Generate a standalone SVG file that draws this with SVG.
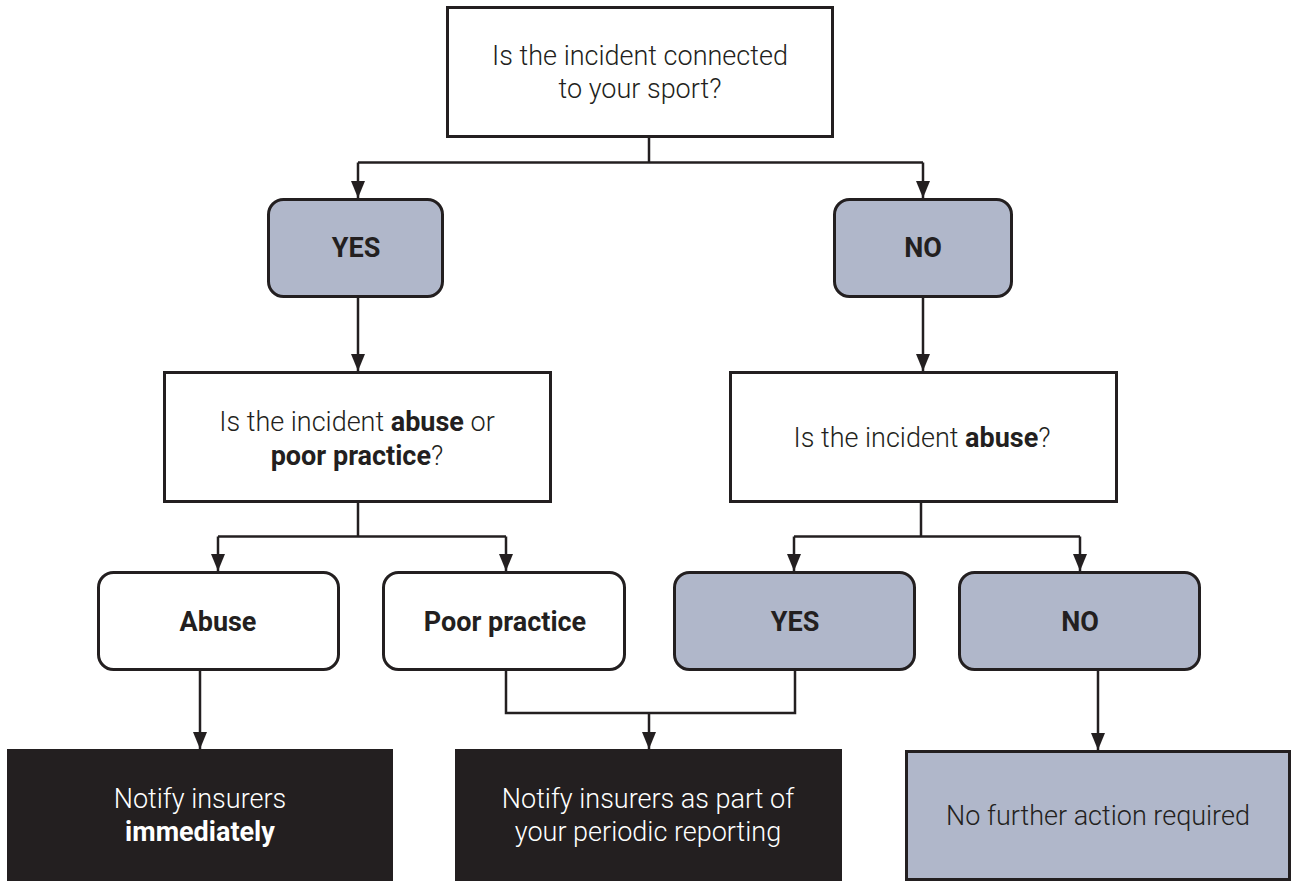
<svg xmlns="http://www.w3.org/2000/svg" width="1292" height="881" viewBox="0 0 1292 881">
<defs>
<style>
.box{stroke:#231f20;stroke-width:3;}
.white{fill:#ffffff;}
.grey{fill:#b0b7ca;}
.black{fill:#231f20;}
.t{font-family:Roboto,"Liberation Sans",Arial,sans-serif;font-size:27px;font-weight:300;fill:#231f20;text-anchor:middle;}
.b{font-weight:700;}
.w{fill:#ffffff;}
.c{fill:none;stroke:#231f20;stroke-width:2.5;}
</style>
<marker id="arr" markerUnits="userSpaceOnUse" markerWidth="17" markerHeight="14" refX="17" refY="7" orient="auto">
<path d="M0,0 L17,7 L0,14 z" fill="#231f20"/>
</marker>
</defs>
<rect width="1292" height="881" fill="#ffffff"/>
<g id="connectors">
<path class="c" d="M649,137 V162.5"/>
<path class="c" d="M358,162.5 H923" />
<path class="c" d="M358,162.5 V198" marker-end="url(#arr)"/>
<path class="c" d="M923,162.5 V198" marker-end="url(#arr)"/>
<path class="c" d="M358,297 V371" marker-end="url(#arr)"/>
<path class="c" d="M923,297 V371" marker-end="url(#arr)"/>
<path class="c" d="M358,502 V536.5"/>
<path class="c" d="M218,536.5 H506"/>
<path class="c" d="M218,536.5 V571" marker-end="url(#arr)"/>
<path class="c" d="M506,536.5 V571" marker-end="url(#arr)"/>
<path class="c" d="M921,502 V536.5"/>
<path class="c" d="M794,536.5 H1080"/>
<path class="c" d="M794,536.5 V571" marker-end="url(#arr)"/>
<path class="c" d="M1080,536.5 V571" marker-end="url(#arr)"/>
<path class="c" d="M200,670 V749" marker-end="url(#arr)"/>
<path class="c" d="M506,670 V713 H795 V670"/>
<path class="c" d="M649,713 V749" marker-end="url(#arr)"/>
<path class="c" d="M1098,670 V750" marker-end="url(#arr)"/>
</g>
<g id="q1">
<rect class="box white" x="447.5" y="7.5" width="385" height="129"/>
<text class="t" x="640" y="65">Is the incident connected</text>
<text class="t" x="640" y="98">to your sport?</text>
</g>
<g id="yes1">
<rect class="box grey" x="268.5" y="199.5" width="174" height="97" rx="15"/>
<text class="t b" x="356" y="257">YES</text>
</g>
<g id="no1">
<rect class="box grey" x="834.5" y="199.5" width="177" height="97" rx="15"/>
<text class="t b" x="923" y="257">NO</text>
</g>
<g id="q2">
<rect class="box white" x="164.5" y="372.5" width="386" height="129"/>
<text class="t" x="357" y="431">Is the incident <tspan class="b">abuse</tspan> or</text>
<text class="t" x="357" y="465"><tspan class="b">poor practice</tspan>?</text>
</g>
<g id="q3">
<rect class="box white" x="730.5" y="372.5" width="386" height="129"/>
<text class="t" x="922" y="447">Is the incident <tspan class="b">abuse</tspan>?</text>
</g>
<g id="abuse">
<rect class="box white" x="98.5" y="572.5" width="240" height="97" rx="15"/>
<text class="t b" x="218" y="631">Abuse</text>
</g>
<g id="poor">
<rect class="box white" x="383.5" y="572.5" width="241" height="97" rx="15"/>
<text class="t b" x="505" y="631">Poor practice</text>
</g>
<g id="yes2">
<rect class="box grey" x="674.5" y="572.5" width="240" height="97" rx="15"/>
<text class="t b" x="795" y="631">YES</text>
</g>
<g id="no2">
<rect class="box grey" x="959.5" y="572.5" width="240" height="97" rx="15"/>
<text class="t b" x="1080" y="631">NO</text>
</g>
<g id="notify-now">
<rect class="black" x="7" y="749" width="386" height="132"/>
<text class="t w" x="200" y="808">Notify insurers</text>
<text class="t w b" x="200" y="841">immediately</text>
</g>
<g id="notify-periodic">
<rect class="black" x="455" y="749" width="387" height="132"/>
<text class="t w" x="648" y="808">Notify insurers as part of</text>
<text class="t w" x="648" y="841">your periodic reporting</text>
</g>
<g id="no-action">
<rect class="box grey" x="906.5" y="751.5" width="383" height="128"/>
<text class="t" x="1098" y="825">No further action required</text>
</g>
</svg>
